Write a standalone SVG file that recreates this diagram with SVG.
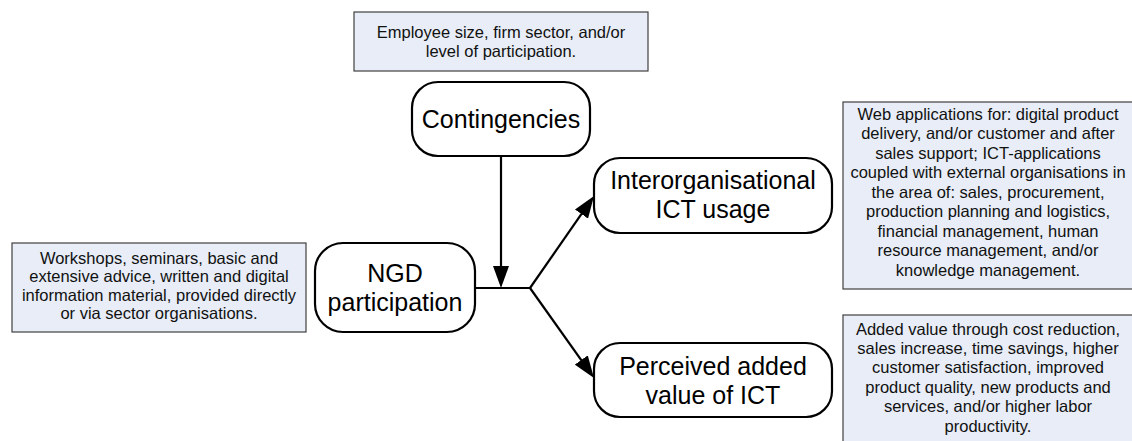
<svg xmlns="http://www.w3.org/2000/svg" width="1132" height="441" viewBox="0 0 1132 441">
  <defs>
    <marker id="arrow" markerUnits="userSpaceOnUse" markerWidth="22" markerHeight="16" viewBox="0 0 22 16" refX="12" refY="8" orient="auto">
      <path d="M0,0 L22,8 L0,16 Z" fill="#000"/>
    </marker>
    <style>
      .note { fill: #e8edf7; stroke: #404040; stroke-width: 1.2; }
      .node { fill: #ffffff; stroke: #000; stroke-width: 2.2; }
      .small { font-family: "Liberation Sans", Arial, sans-serif; font-size: 16.5px; fill: #111; text-anchor: middle; }
      .big { font-family: "Liberation Sans", Arial, sans-serif; font-size: 25px; fill: #000; text-anchor: middle; }
      .wire { fill: none; stroke: #000; stroke-width: 2.2; }
    </style>
  </defs>
  <rect width="1132" height="441" fill="#ffffff"/>

  <!-- annotation boxes -->
  <g id="note-contingencies">
    <rect class="note" x="354" y="12" width="294" height="59"/>
    <text class="small" x="501" y="37.5">Employee size, firm sector, and/or</text>
    <text class="small" x="501" y="57">level of participation.</text>
  </g>
  <g id="note-ngd">
    <rect class="note" x="12" y="243" width="294" height="89"/>
    <text class="small" x="159" y="263.5">Workshops, seminars, basic and</text>
    <text class="small" x="159" y="282">extensive advice, written and digital</text>
    <text class="small" x="159" y="300.5">information material, provided directly</text>
    <text class="small" x="159" y="319">or via sector organisations.</text>
  </g>
  <g id="note-ict">
    <rect class="note" x="843" y="102" width="291" height="187"/>
    <text class="small" x="988" y="119.5">Web applications for: digital product</text>
    <text class="small" x="988" y="139">delivery, and/or customer and after</text>
    <text class="small" x="988" y="158.5">sales support; ICT-applications</text>
    <text class="small" x="988" y="178">coupled with external organisations in</text>
    <text class="small" x="988" y="197.5">the area of: sales, procurement,</text>
    <text class="small" x="988" y="217">production planning and logistics,</text>
    <text class="small" x="988" y="236.5">financial management, human</text>
    <text class="small" x="988" y="256">resource management, and/or</text>
    <text class="small" x="988" y="275.5">knowledge management.</text>
  </g>
  <g id="note-value">
    <rect class="note" x="843" y="315" width="291" height="130"/>
    <text class="small" x="988" y="334.5">Added value through cost reduction,</text>
    <text class="small" x="988" y="353.9">sales increase, time savings, higher</text>
    <text class="small" x="988" y="373.3">customer satisfaction, improved</text>
    <text class="small" x="988" y="392.7">product quality, new products and</text>
    <text class="small" x="988" y="412.1">services, and/or higher labor</text>
    <text class="small" x="988" y="431.5">productivity.</text>
  </g>

  <!-- connectors -->
  <g id="connectors">
    <line class="wire" x1="501" y1="156" x2="501" y2="278" marker-end="url(#arrow)"/>
    <line class="wire" x1="475" y1="288" x2="530" y2="288"/>
    <line class="wire" x1="530" y1="288" x2="588.3" y2="204.2" marker-end="url(#arrow)"/>
    <line class="wire" x1="530" y1="288" x2="588.2" y2="369.8" marker-end="url(#arrow)"/>
  </g>

  <!-- concept nodes -->
  <g id="contingencies">
    <rect class="node" x="412" y="82" width="178" height="74" rx="26" ry="26"/>
    <text class="big" x="501" y="128">Contingencies</text>
  </g>
  <g id="ngd-participation">
    <rect class="node" x="315" y="243" width="160" height="89" rx="28" ry="28"/>
    <text class="big" x="395" y="282">NGD</text>
    <text class="big" x="395" y="311">participation</text>
  </g>
  <g id="interorganisational-ict">
    <rect class="node" x="594" y="158" width="238" height="75" rx="26" ry="26"/>
    <text class="big" x="713" y="189">Interorganisational</text>
    <text class="big" x="713" y="218">ICT usage</text>
  </g>
  <g id="perceived-value">
    <rect class="node" x="594" y="343" width="238" height="74" rx="26" ry="26"/>
    <text class="big" x="713" y="375">Perceived added</text>
    <text class="big" x="713" y="404">value of ICT</text>
  </g>
</svg>
